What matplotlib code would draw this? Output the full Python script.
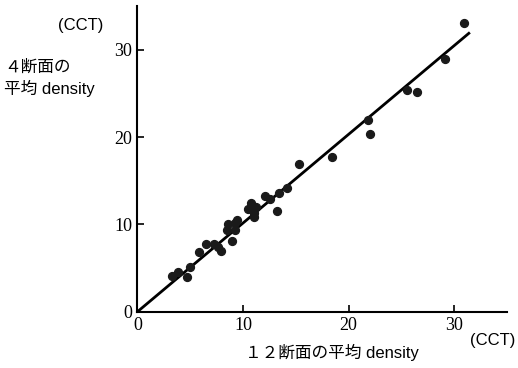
import numpy as np
import matplotlib.pyplot as plt

# 12断面 vs 4断面 の平均 density (CCT)
x12 = [30.9, 29.1, 25.5, 26.5, 21.8, 22.0, 18.4, 15.3, 14.2, 13.4, 13.2, 12.6,
       12.1, 11.2, 10.8, 10.5, 11.0, 11.0, 9.4, 9.2, 8.55, 8.45, 9.2, 9.0,
       7.25, 7.6, 7.9, 6.5, 5.8, 5.0, 4.7, 3.8, 3.3]
y4 = [33.1, 28.9, 25.4, 25.2, 22.0, 20.4, 17.7, 16.9, 14.2, 13.6, 11.5, 12.9,
      13.3, 12.0, 12.5, 11.8, 10.8, 11.3, 10.5, 10.2, 10.05, 9.4, 9.4, 8.1,
      7.7, 7.4, 7.0, 7.75, 6.8, 5.1, 4.0, 4.6, 4.1]
fit_x = [0, 31.5]
fit_y = [0, 32.0]
ticks = [0, 10, 20, 30]

jp = ['Liberation Sans', 'Noto Sans CJK JP']

fig = plt.figure(figsize=(5.18, 3.68), dpi=100)
ax = fig.add_axes([0.2654, 0.153, 0.713, 0.830])

ax.plot(fit_x, fit_y, color='black', lw=2.0, solid_capstyle='butt')
ax.scatter(x12, y4, s=32, color='#1a1a1a', zorder=3)

ax.set_xlim(0, 35)
ax.set_ylim(0, 35)
ax.set_xticks(ticks)
ax.set_yticks(ticks)
for s in ['top', 'right']:
    ax.spines[s].set_visible(False)
for s in ['left', 'bottom']:
    ax.spines[s].set_linewidth(1.5)
ax.tick_params(direction='in', length=5, width=1.2, labelsize=13, pad=4)
for lab in ax.get_xticklabels() + ax.get_yticklabels():
    lab.set_family('Liberation Serif')

fig.text(0.155, 0.93, '(CCT)', fontsize=12, family=jp, ha='center', va='center')
fig.text(0.008, 0.818, '４断面の', fontsize=12, family=jp, ha='left', va='center')
fig.text(0.008, 0.76, '平均 density', fontsize=12, family=jp, ha='left', va='center')
fig.text(0.64, 0.043, '１２断面の平均 density', fontsize=12, family=jp, ha='center', va='center')
fig.text(0.952, 0.075, '(CCT)', fontsize=12, family=jp, ha='center', va='center')

fig.savefig('out.png', dpi=100)
